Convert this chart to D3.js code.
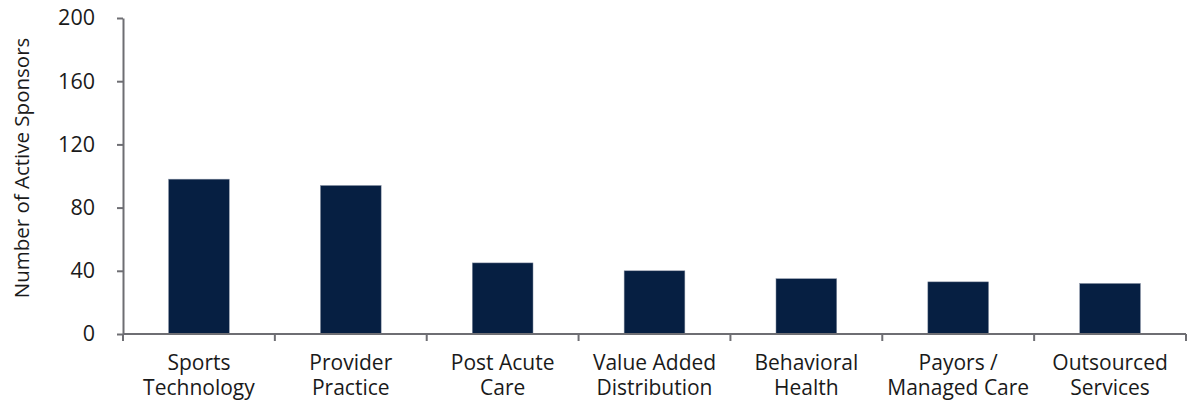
<!DOCTYPE html>
<html><head><meta charset="utf-8">
<script src="https://cdn.jsdelivr.net/npm/d3@7"></script>
<style>body{margin:0;background:#fff}svg{display:block}text{font-family:"Open Sans",sans-serif;fill:#1a1a1a}</style>
</head><body><svg id="c" width="1190" height="402"></svg>
<script>
const categories = [["Sports","Technology"],["Provider","Practice"],["Post Acute","Care"],["Value Added","Distribution"],["Behavioral","Health"],["Payors /","Managed Care"],["Outsourced","Services"]];
const values = [98, 94, 45, 40, 35, 33, 32];
const yTicks = [0, 40, 80, 120, 160, 200];
const yTitle = "Number of Active Sponsors";

const svg = d3.select("#c");
const mLeft = 123, mRight = 1186, mTop = 18, mBottom = 334;
const keys = categories.map((c,i)=>i);
const x = d3.scaleBand().domain(keys).range([mLeft,mRight]).paddingInner(0.6).paddingOuter(0.3);
const xb = d3.scaleBand().domain(keys).range([mLeft,mRight]);
const y = d3.scaleLinear().domain([0,200]).range([mBottom,mTop]);
const axisColor = "#6e6e73";
const font = "'Open Sans',sans-serif";

// bars
svg.append("g").selectAll("rect").data(values).join("rect")
  .attr("x",(d,i)=>x(i)).attr("width",x.bandwidth())
  .attr("y",d=>y(d)).attr("height",d=>y(0)-y(d))
  .attr("fill","#061f42").attr("stroke","#8a94a6").attr("stroke-width",0.5);

// y axis
const ya = svg.append("g").attr("transform",`translate(${mLeft},0)`)
  .call(d3.axisLeft(y).tickValues(yTicks).tickSize(6).tickPadding(22).tickSizeOuter(0));
ya.select(".domain").attr("stroke",axisColor).attr("stroke-width",2);
ya.selectAll(".tick line").attr("stroke",axisColor).attr("stroke-width",2);
ya.selectAll(".tick text").attr("font-size",21.5).attr("fill","#1a1a1a").attr("font-family",font);

// x axis
const xg = svg.append("g").attr("transform",`translate(0,${mBottom})`);
xg.append("line").attr("x1",mLeft).attr("x2",mRight).attr("stroke",axisColor).attr("stroke-width",2);
const bounds = keys.map(k=>xb(k)).concat([mRight]);
xg.selectAll(".bt").data(bounds).join("line").attr("class","bt")
  .attr("x1",d=>d).attr("x2",d=>d).attr("y1",0).attr("y2",7)
  .attr("stroke",axisColor).attr("stroke-width",2);
const lab = xg.selectAll(".lab").data(categories).join("text").attr("class","lab")
  .attr("text-anchor","middle").attr("font-size",21)
  .attr("transform",(d,i)=>`translate(${xb(i)+xb.bandwidth()/2},0)`);
lab.each(function(d){
  const t = d3.select(this);
  d.forEach((s,j)=>t.append("tspan").attr("x",0).attr("y",36+j*25).text(s));
});

// y title
svg.append("text").attr("transform",`translate(29,168) rotate(-90)`)
  .attr("text-anchor","middle").attr("font-size",20.5).text(yTitle);
</script></body></html>
